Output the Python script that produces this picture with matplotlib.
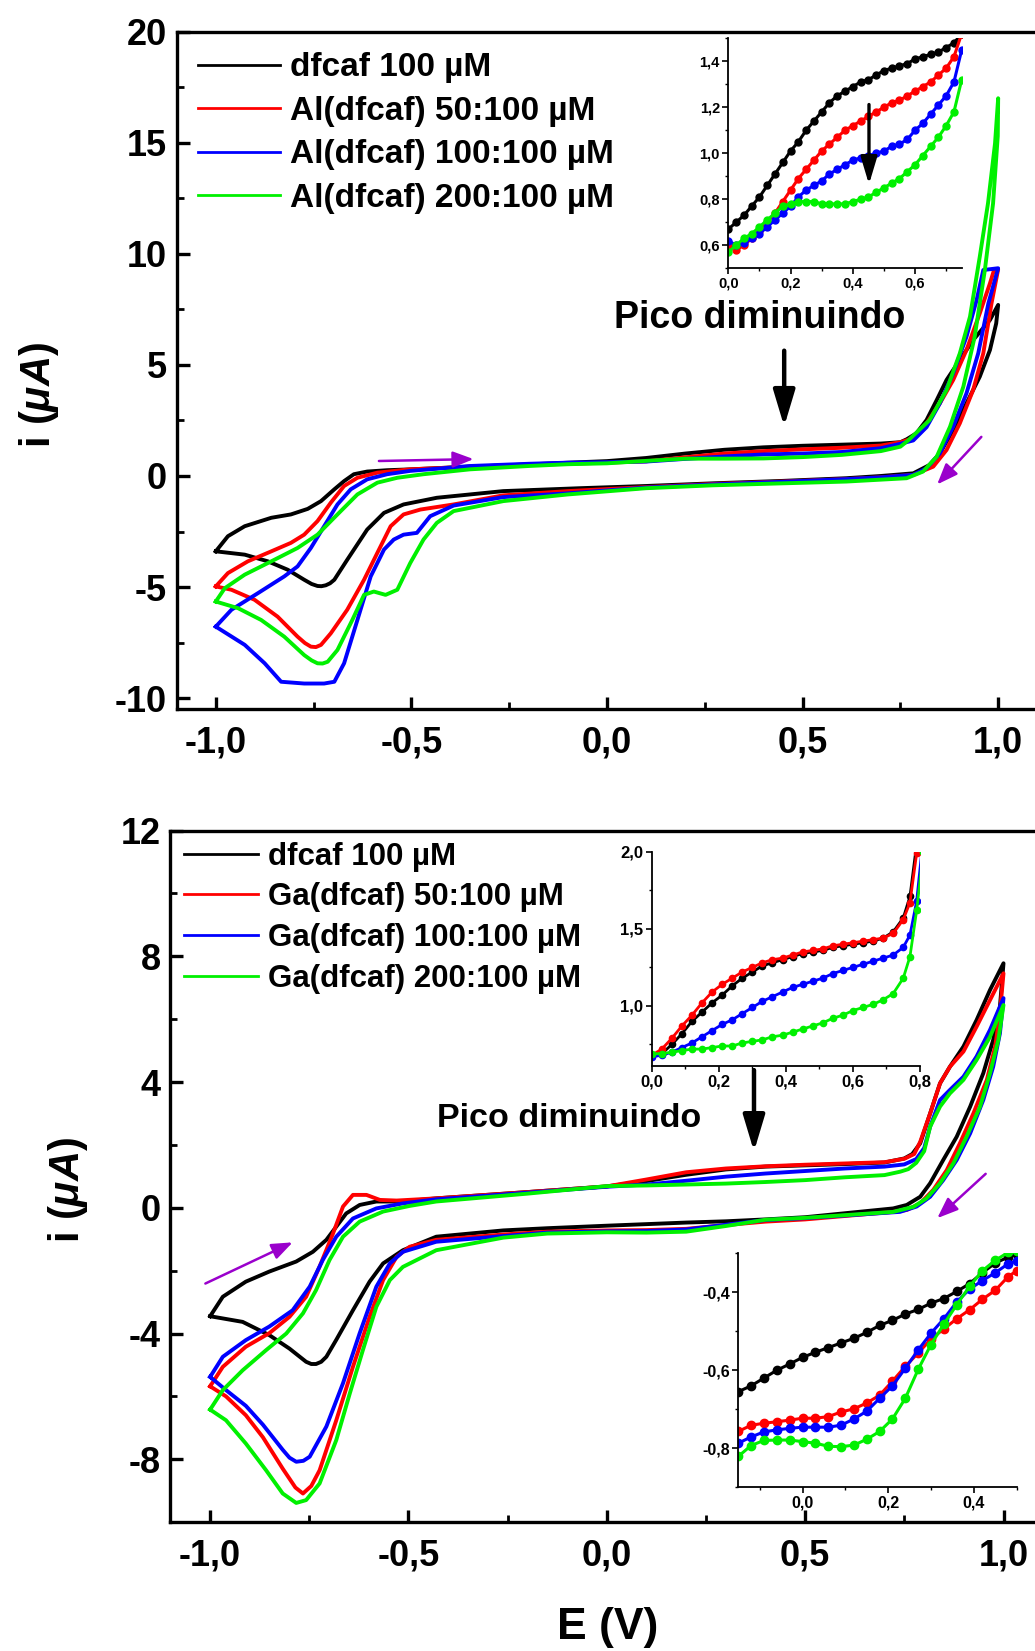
"""
Cyclic voltammograms of dfcaf with Al(III) and Ga(III).

Two stacked panels, each with the full CV loops and zoomed insets.
"""

import matplotlib

matplotlib.use("Agg")
import matplotlib.pyplot as plt
from matplotlib.ticker import MultipleLocator


OUT_FILE = "out.png"

COLORS = ["black", "#FF0000", "#0000FF", "#00F000"]

AL_LABELS = [
    "dfcaf 100 µM",
    "Al(dfcaf) 50:100 µM",
    "Al(dfcaf) 100:100 µM",
    "Al(dfcaf) 200:100 µM",
]
GA_LABELS = [
    "dfcaf 100 µM",
    "Ga(dfcaf) 50:100 µM",
    "Ga(dfcaf) 100:100 µM",
    "Ga(dfcaf) 200:100 µM",
]

E_TICKS = [-1.0, -0.5, 0.0, 0.5, 1.0]
E_TICK_LABELS = ["-1,0", "-0,5", "0,0", "0,5", "1,0"]
AL_I_TICKS = [-10, -5, 0, 5, 10, 15, 20]
AL_I_TICK_LABELS = ["-10", "-5", "0", "5", "10", "15", "20"]
GA_I_TICKS = [-8, -4, 0, 4, 8, 12]
GA_I_TICK_LABELS = ["-8", "-4", "0", "4", "8", "12"]

# --- Al panel, full loops (forward sweep -1 -> 1, then back to -1) ---
AL_BLACK_E = [-1.0, -0.969, -0.926, -0.858, -0.808, -0.765, -0.731, -0.697, -0.672, -0.647,
              -0.613, -0.562, -0.5, -0.35, -0.2, -0.07, 0.0, 0.1, 0.2, 0.3,
              0.4, 0.5, 0.6, 0.7, 0.75, 0.766, 0.791, 0.817, 0.843, 0.868,
              0.902, 0.936, 0.979, 1.0,
              0.995, 0.979, 0.953, 0.919, 0.885, 0.851, 0.825, 0.783, 0.7, 0.612,
              0.45, 0.271, 0.1, -0.07, -0.265, -0.435, -0.52, -0.57, -0.613, -0.664,
              -0.697, -0.708, -0.719, -0.73, -0.74, -0.755, -0.774, -0.816, -0.867, -0.926,
              -1.0]
AL_BLACK_I = [-3.39, -2.71, -2.26, -1.88, -1.73, -1.48, -1.13, -0.60, -0.23, 0.08,
              0.20, 0.26, 0.30, 0.42, 0.52, 0.62, 0.67, 0.81, 1.01, 1.18,
              1.29, 1.36, 1.41, 1.46, 1.52, 1.65, 1.92, 2.52, 3.42, 4.32,
              5.22, 6.12, 7.02, 7.7,
              6.87, 5.67, 4.47, 3.27, 2.07, 1.02, 0.5, 0.12, 0.0, -0.1,
              -0.22, -0.33, -0.45, -0.55, -0.68, -0.98, -1.28, -1.66, -2.41, -3.77,
              -4.67, -4.83, -4.92, -4.96, -4.95, -4.86, -4.67, -4.22, -3.84, -3.54,
              -3.39]

AL_RED_E = [-1.0, -0.969, -0.918, -0.858, -0.808, -0.774, -0.74, -0.706, -0.672, -0.638,
            -0.587, -0.503, -0.35, -0.2, -0.1, 0.0, 0.1, 0.2, 0.3, 0.4,
            0.5, 0.6, 0.7, 0.75, 0.783, 0.817, 0.851, 0.885, 0.919, 0.953,
            0.979, 0.99, 1.0,
            0.983, 0.962, 0.936, 0.902, 0.868, 0.834, 0.783, 0.7, 0.612, 0.45,
            0.27, 0.1, -0.1, -0.265, -0.392, -0.477, -0.52, -0.553, -0.587, -0.621,
            -0.664, -0.706, -0.731, -0.744, -0.757, -0.772, -0.791, -0.842, -0.901, -0.96,
            -1.0]
AL_RED_I = [-4.97, -4.37, -3.84, -3.39, -3.01, -2.64, -2.03, -1.2, -0.45, -0.08,
            0.15, 0.3, 0.42, 0.5, 0.55, 0.6, 0.66, 0.84, 1.01, 1.12,
            1.2, 1.27, 1.37, 1.52, 1.7, 2.37, 3.27, 4.32, 5.67, 7.32,
            8.67, 9.3, 9.3,
            7.77, 5.52, 3.87, 2.37, 1.17, 0.42, 0.05, -0.06, -0.14, -0.25,
            -0.36, -0.5, -0.68, -0.87, -1.28, -1.51, -1.73, -2.26, -3.46, -4.67,
            -6.02, -7.08, -7.6, -7.7, -7.68, -7.52, -7.23, -6.33, -5.57, -5.12,
            -4.97]

AL_BLUE_E = [-1.0, -0.96, -0.892, -0.825, -0.791, -0.757, -0.723, -0.689, -0.655, -0.613,
             -0.562, -0.503, -0.35, -0.2, -0.1, 0.0, 0.1, 0.2, 0.3, 0.4,
             0.5, 0.6, 0.7, 0.75, 0.783, 0.817, 0.851, 0.885, 0.919, 0.945,
             0.962, 1.0,
             0.975, 0.949, 0.919, 0.885, 0.851, 0.817, 0.783, 0.7, 0.612, 0.45,
             0.27, 0.1, -0.1, -0.265, -0.392, -0.452, -0.486, -0.52, -0.545, -0.57,
             -0.604, -0.638, -0.672, -0.697, -0.723, -0.774, -0.833, -0.875, -0.926, -1.0]
AL_BLUE_I = [-6.78, -6.02, -5.27, -4.52, -4.07, -3.24, -2.26, -1.28, -0.6, -0.15,
             0.08, 0.23, 0.45, 0.55, 0.6, 0.62, 0.65, 0.77, 0.88, 0.97,
             1.01, 1.08, 1.25, 1.45, 1.6, 2.2, 3.27, 4.62, 6.27, 7.92,
             9.27, 9.35,
             7.77, 5.52, 3.72, 2.22, 1.02, 0.35, 0.05, -0.06, -0.14, -0.26,
             -0.38, -0.52, -0.78, -0.95, -1.33, -1.81, -2.56, -2.64, -2.86, -3.31,
             -4.52, -6.48, -8.43, -9.26, -9.34, -9.34, -9.26, -8.43, -7.6, -6.78]

AL_GREEN_E = [-1.0, -0.977, -0.926, -0.858, -0.791, -0.74, -0.689, -0.638, -0.587, -0.536,
              -0.469, -0.35, -0.2, -0.1, 0.0, 0.1, 0.2, 0.3, 0.4, 0.5,
              0.6, 0.7, 0.75, 0.77, 0.825, 0.868, 0.902, 0.928, 0.953, 0.974,
              0.992, 1.0,
              0.999, 0.987, 0.966, 0.94, 0.911, 0.877, 0.843, 0.808, 0.766, 0.612,
              0.45, 0.27, 0.1, -0.1, -0.265, -0.392, -0.435, -0.469, -0.503, -0.536,
              -0.566, -0.596, -0.621, -0.651, -0.689, -0.714, -0.727, -0.74, -0.755, -0.774,
              -0.825, -0.884, -0.943, -1.0]
AL_GREEN_I = [-5.65, -5.05, -4.44, -3.84, -3.24, -2.64, -1.73, -0.83, -0.3, -0.08,
              0.08, 0.3, 0.45, 0.53, 0.57, 0.68, 0.78, 0.78, 0.79, 0.85,
              0.95, 1.12, 1.32, 1.6, 2.52, 3.87, 5.52, 7.17, 9.87, 12.27,
              14.97, 17.0,
              15.3, 12.27, 9.27, 6.27, 4.02, 2.22, 0.87, 0.2, -0.1, -0.25,
              -0.33, -0.42, -0.55, -0.83, -1.13, -1.58, -2.11, -2.86, -3.92, -5.12,
              -5.35, -5.2, -5.35, -6.48, -7.83, -8.36, -8.44, -8.43, -8.3, -8.06,
              -7.23, -6.48, -5.95, -5.65]

# --- Ga panel, full loops ---
GA_BLACK_E = [-1.0, -0.968, -0.91, -0.851, -0.783, -0.741, -0.707, -0.682, -0.657, -0.623,
              -0.581, -0.514, -0.43, -0.2, 0.0, 0.1, 0.2, 0.3, 0.4, 0.5,
              0.6, 0.7, 0.75, 0.77, 0.79, 0.815, 0.84, 0.865, 0.899, 0.932,
              0.966, 1.0,
              0.991, 0.974, 0.949, 0.916, 0.882, 0.848, 0.815, 0.79, 0.756, 0.722,
              0.5, 0.4, 0.3, 0.2, 0.1, 0.0, -0.15, -0.261, -0.43, -0.514,
              -0.564, -0.598, -0.64, -0.682, -0.707, -0.72, -0.733, -0.745, -0.758, -0.8,
              -0.851, -0.918, -1.0]
GA_BLACK_I = [-3.45, -2.83, -2.35, -2.03, -1.71, -1.40, -1.02, -0.60, -0.18, 0.09,
              0.2, 0.2, 0.3, 0.5, 0.68, 0.85, 1.05, 1.22, 1.31, 1.35,
              1.39, 1.44, 1.57, 1.71, 2.05, 3.0, 3.96, 4.49, 5.13, 5.97,
              6.93, 7.78,
              6.4, 5.34, 4.28, 3.22, 2.26, 1.52, 0.78, 0.35, 0.09, -0.02,
              -0.30, -0.37, -0.43, -0.47, -0.52, -0.57, -0.65, -0.72, -0.92, -1.35,
              -1.77, -2.35, -3.26, -4.2, -4.74, -4.9, -4.97, -4.97, -4.9, -4.48,
              -4.05, -3.63, -3.45]

GA_RED_E = [-1.0, -0.968, -0.91, -0.851, -0.8, -0.758, -0.724, -0.69, -0.665, -0.64,
            -0.606, -0.572, -0.53, -0.43, -0.2, 0.0, 0.1, 0.2, 0.3, 0.4,
            0.5, 0.6, 0.7, 0.75, 0.775, 0.79, 0.815, 0.84, 0.865, 0.899,
            0.932, 0.966, 1.0,
            0.991, 0.979, 0.958, 0.924, 0.89, 0.857, 0.823, 0.79, 0.756, 0.722,
            0.5, 0.4, 0.3, 0.2, 0.1, 0.0, -0.15, -0.261, -0.43, -0.497,
            -0.53, -0.564, -0.598, -0.64, -0.682, -0.724, -0.745, -0.766, -0.785, -0.817,
            -0.867, -0.91, -0.96, -1.0]
GA_RED_I = [-5.68, -5.06, -4.42, -3.99, -3.47, -2.83, -1.87, -0.81, 0.04, 0.41,
            0.41, 0.25, 0.23, 0.3, 0.5, 0.68, 0.9, 1.13, 1.25, 1.32,
            1.37, 1.41, 1.45, 1.56, 1.71, 2.1, 3.0, 3.96, 4.49, 4.97,
            5.76, 6.61, 7.46,
            6.2, 5.13, 4.07, 3.0, 2.05, 1.2, 0.57, 0.14, -0.07, -0.13,
            -0.37, -0.44, -0.55, -0.67, -0.71, -0.72, -0.76, -0.85, -1.02, -1.24,
            -1.56, -2.3, -3.47, -5.06, -6.76, -8.35, -8.85, -9.09, -8.9, -8.3,
            -7.3, -6.6, -6.0, -5.68]

GA_BLUE_E = [-1.0, -0.968, -0.91, -0.851, -0.792, -0.749, -0.716, -0.682, -0.64, -0.581,
             -0.514, -0.43, -0.2, 0.0, 0.1, 0.2, 0.3, 0.4, 0.5, 0.6,
             0.7, 0.75, 0.78, 0.8, 0.815, 0.84, 0.865, 0.899, 0.932, 0.966,
             1.0,
             0.991, 0.974, 0.949, 0.916, 0.882, 0.848, 0.815, 0.781, 0.739, 0.5,
             0.4, 0.3, 0.2, 0.1, 0.0, -0.15, -0.261, -0.43, -0.514, -0.547,
             -0.581, -0.623, -0.665, -0.707, -0.749, -0.765, -0.783, -0.8, -0.817, -0.867,
             -0.91, -0.96, -1.0]
GA_BLUE_I = [-5.38, -4.74, -4.21, -3.78, -3.26, -2.51, -1.66, -0.92, -0.34, -0.02,
             0.14, 0.27, 0.48, 0.67, 0.74, 0.86, 0.99, 1.09, 1.17, 1.25,
             1.31, 1.38, 1.55, 1.9, 2.58, 3.43, 3.75, 4.17, 4.81, 5.66,
             6.67,
             5.55, 4.49, 3.43, 2.37, 1.52, 0.88, 0.35, 0.04, -0.13, -0.33,
             -0.39, -0.54, -0.69, -0.74, -0.75, -0.79, -0.9, -1.08, -1.4, -1.77,
             -2.51, -3.99, -5.58, -6.96, -7.92, -8.05, -8.08, -7.95, -7.7, -6.9,
             -6.3, -5.8, -5.38]

GA_GREEN_E = [-1.0, -0.968, -0.918, -0.859, -0.808, -0.766, -0.733, -0.699, -0.665, -0.623,
              -0.564, -0.497, -0.43, -0.2, 0.0, 0.1, 0.2, 0.3, 0.4, 0.5,
              0.6, 0.7, 0.74, 0.76, 0.78, 0.8, 0.815, 0.84, 0.865, 0.899,
              0.932, 0.966, 1.0,
              0.987, 0.966, 0.941, 0.907, 0.874, 0.84, 0.806, 0.773, 0.722, 0.5,
              0.4, 0.3, 0.2, 0.1, 0.0, -0.15, -0.261, -0.43, -0.514, -0.547,
              -0.581, -0.615, -0.648, -0.682, -0.724, -0.758, -0.783, -0.817, -0.859, -0.91,
              -0.96, -1.0]
GA_GREEN_I = [-6.42, -5.8, -5.17, -4.53, -4.0, -3.36, -2.62, -1.66, -0.92, -0.44,
              -0.12, 0.06, 0.2, 0.45, 0.69, 0.71, 0.74, 0.77, 0.82, 0.88,
              0.97, 1.04, 1.15, 1.23, 1.43, 1.8, 2.58, 3.22, 3.64, 4.07,
              4.7, 5.44, 6.45,
              5.34, 4.28, 3.22, 2.26, 1.42, 0.78, 0.3, 0.03, -0.13, -0.32,
              -0.38, -0.58, -0.76, -0.79, -0.78, -0.82, -0.95, -1.35, -1.88, -2.3,
              -3.15, -4.53, -5.91, -7.39, -8.77, -9.3, -9.39, -9.09, -8.35, -7.5,
              -6.76, -6.42]

# --- Al inset: forward sweep, 0 to 0.75 V ---
INSET_AL_E = [0.0, 0.025, 0.05, 0.075, 0.1, 0.125, 0.15, 0.175, 0.2, 0.225,
              0.25, 0.275, 0.3, 0.325, 0.35, 0.375, 0.4, 0.425, 0.45, 0.475,
              0.5, 0.525, 0.55, 0.575, 0.6, 0.625, 0.65, 0.675, 0.7, 0.725, 0.75]
INSET_AL_BLACK = [0.67, 0.70, 0.73, 0.77, 0.81, 0.86, 0.91, 0.96, 1.01, 1.05,
                  1.10, 1.14, 1.18, 1.22, 1.25, 1.27, 1.29, 1.31, 1.32, 1.34,
                  1.36, 1.37, 1.38, 1.39, 1.41, 1.42, 1.43, 1.44, 1.46, 1.48, 1.52]
INSET_AL_RED = [0.60, 0.58, 0.60, 0.63, 0.66, 0.70, 0.74, 0.79, 0.84, 0.89,
                0.93, 0.97, 1.01, 1.04, 1.07, 1.10, 1.12, 1.14, 1.16, 1.18,
                1.20, 1.22, 1.23, 1.25, 1.27, 1.29, 1.31, 1.34, 1.37, 1.42, 1.52]
INSET_AL_BLUE = [0.62, 0.60, 0.61, 0.63, 0.65, 0.68, 0.71, 0.74, 0.77, 0.81,
                 0.84, 0.86, 0.88, 0.91, 0.93, 0.95, 0.97, 0.98, 0.99, 1.00,
                 1.01, 1.03, 1.04, 1.06, 1.10, 1.13, 1.17, 1.21, 1.25, 1.31, 1.45]
INSET_AL_GREEN = [0.57, 0.60, 0.63, 0.65, 0.68, 0.71, 0.74, 0.77, 0.78, 0.79,
                  0.79, 0.79, 0.78, 0.78, 0.78, 0.78, 0.79, 0.80, 0.81, 0.83,
                  0.85, 0.87, 0.89, 0.92, 0.95, 0.99, 1.03, 1.07, 1.12, 1.18, 1.32]

# --- Ga inset, forward sweep 0 to 0.8 V ---
INSET_GA_UP_E = [0.0, 0.03, 0.06, 0.09, 0.12, 0.15, 0.18, 0.21, 0.24, 0.27,
                 0.30, 0.33, 0.36, 0.39, 0.42, 0.45, 0.48, 0.51, 0.54, 0.57,
                 0.60, 0.63, 0.66, 0.69, 0.72, 0.75, 0.77, 0.79, 0.81]
INSET_GA_UP_BLACK = [0.68, 0.69, 0.75, 0.82, 0.90, 0.96, 1.02, 1.07, 1.13, 1.18,
                     1.22, 1.26, 1.28, 1.30, 1.32, 1.34, 1.35, 1.36, 1.38, 1.39,
                     1.40, 1.41, 1.42, 1.44, 1.48, 1.57, 1.71, 2.05, 2.5]
INSET_GA_UP_RED = [0.68, 0.72, 0.79, 0.87, 0.94, 1.02, 1.09, 1.14, 1.18, 1.22,
                   1.25, 1.28, 1.30, 1.31, 1.33, 1.35, 1.36, 1.37, 1.39, 1.40,
                   1.41, 1.42, 1.43, 1.44, 1.47, 1.56, 1.67, 1.99, 2.4]
INSET_GA_UP_BLUE = [0.67, 0.68, 0.70, 0.73, 0.76, 0.80, 0.84, 0.88, 0.91, 0.95,
                    0.99, 1.03, 1.06, 1.09, 1.12, 1.14, 1.16, 1.18, 1.21, 1.23,
                    1.25, 1.27, 1.29, 1.31, 1.33, 1.38, 1.46, 1.68, 2.1]
INSET_GA_UP_GREEN = [0.69, 0.69, 0.70, 0.71, 0.72, 0.72, 0.73, 0.74, 0.74, 0.76,
                     0.77, 0.78, 0.80, 0.81, 0.83, 0.85, 0.87, 0.89, 0.92, 0.94,
                     0.97, 0.99, 1.01, 1.04, 1.08, 1.18, 1.32, 1.62, 2.0]

# --- Ga inset, reverse sweep -0.15 to 0.5 V ---
INSET_GA_LOW_E = [-0.15, -0.12, -0.09, -0.06, -0.03, 0.0, 0.03, 0.06, 0.09, 0.12,
                  0.15, 0.18, 0.21, 0.24, 0.27, 0.30, 0.33, 0.36, 0.39, 0.42,
                  0.45, 0.48, 0.50]
INSET_GA_LOW_BLACK = [-0.655, -0.64, -0.62, -0.60, -0.584, -0.567, -0.554, -0.542, -0.53, -0.518,
                      -0.503, -0.485, -0.472, -0.456, -0.444, -0.428, -0.416, -0.398, -0.378, -0.35,
                      -0.325, -0.31, -0.302]
INSET_GA_LOW_RED = [-0.757, -0.741, -0.736, -0.732, -0.728, -0.723, -0.723, -0.719, -0.707, -0.699,
                    -0.684, -0.664, -0.628, -0.59, -0.556, -0.52, -0.494, -0.468, -0.445, -0.418,
                    -0.395, -0.36, -0.345]
INSET_GA_LOW_BLUE = [-0.787, -0.771, -0.758, -0.753, -0.749, -0.746, -0.746, -0.746, -0.741, -0.725,
                     -0.705, -0.672, -0.64, -0.595, -0.548, -0.505, -0.468, -0.425, -0.392, -0.37,
                     -0.35, -0.327, -0.319]
INSET_GA_LOW_GREEN = [-0.821, -0.793, -0.78, -0.779, -0.779, -0.783, -0.787, -0.795, -0.796, -0.792,
                      -0.777, -0.757, -0.725, -0.672, -0.598, -0.534, -0.482, -0.432, -0.385, -0.345,
                      -0.318, -0.298, -0.294]

PURPLE = "#9A00CC"


def style_main_axes(ax, i_ticks, i_labels, i_minor):
    """Thick spines, inward ticks, comma decimals."""
    for side in ("left", "bottom", "top"):
        ax.spines[side].set_linewidth(2.4)
    ax.spines["right"].set_visible(False)
    ax.set_xlim(-1.1, 1.1)
    ax.set_xticks(E_TICKS)
    ax.set_xticklabels(E_TICK_LABELS)
    ax.set_yticks(i_ticks)
    ax.set_yticklabels(i_labels)
    ax.xaxis.set_minor_locator(MultipleLocator(0.25))
    ax.yaxis.set_minor_locator(MultipleLocator(i_minor))
    ax.tick_params(which="major", direction="in", length=9, width=2.4,
                   labelsize=26)
    ax.tick_params(which="minor", direction="in", length=5, width=2.0)
    ax.tick_params(axis="x", pad=12)
    ax.tick_params(axis="y", pad=7)


def style_inset(ax, labelsize):
    ax.set_facecolor("none")
    ax.spines["top"].set_visible(False)
    ax.spines["right"].set_visible(False)
    for side in ("left", "bottom"):
        ax.spines[side].set_linewidth(1.3)
    ax.tick_params(which="major", direction="out", length=4, width=1.2,
                   labelsize=labelsize, pad=2)
    ax.tick_params(which="minor", direction="out", length=2.5, width=1.0)


def add_legend(ax, labels, fontsize, anchor, handlelength, textpad, spacing):
    leg = ax.legend(labels, loc="upper left", bbox_to_anchor=anchor,
                    frameon=False, fontsize=fontsize, borderpad=0,
                    borderaxespad=0, labelspacing=spacing,
                    handlelength=handlelength, handletextpad=textpad)
    for line in leg.get_lines():
        line.set_linewidth(2.0)


def black_arrow(ax, tail, tip, scale):
    ax.annotate("", xy=tip, xytext=tail,
                arrowprops=dict(arrowstyle="-|>,head_length=1.1,head_width=0.33",
                                color="black", lw=scale * 0.16,
                                mutation_scale=scale, shrinkA=0, shrinkB=0))


def purple_arrow(ax, tail, tip):
    ax.annotate("", xy=tip, xytext=tail,
                arrowprops=dict(arrowstyle="-|>,head_length=0.9,head_width=0.35",
                                color=PURPLE, lw=1.8, mutation_scale=14,
                                shrinkA=0, shrinkB=0))


def plot_al_panel(fig):
    ax = fig.add_axes([0.1707, 0.57038, 0.8315, 0.41048])
    loops = [(AL_BLACK_E, AL_BLACK_I), (AL_RED_E, AL_RED_I),
             (AL_BLUE_E, AL_BLUE_I), (AL_GREEN_E, AL_GREEN_I)]
    for (e, i), color in zip(loops, COLORS):
        ax.plot(e, i, color=color, lw=2.8, solid_joinstyle="round")
    ax.set_ylim(-10.5, 20)
    style_main_axes(ax, AL_I_TICKS, AL_I_TICK_LABELS, 2.5)
    add_legend(ax, AL_LABELS, 24, (0.025, 0.9695), 2.45, 0.3, 0.375)

    ax.text(0.391, 7.11, "Pico diminuindo", fontsize=27, fontweight="bold",
            ha="center", va="center")
    black_arrow(ax, (0.453, 5.64), (0.453, 2.23), 20)
    purple_arrow(ax, (-0.583, 0.675), (-0.341, 0.76))
    purple_arrow(ax, (0.957, 1.76), (0.844, -0.38))
    ax.text(-0.160, 0.464, r"i ($\mu A$)", transform=ax.transAxes,
            fontsize=30, fontweight="bold", rotation=90,
            ha="center", va="center")

    inset = fig.add_axes([0.7037, 0.8375, 0.2255, 0.1393])
    series = [INSET_AL_BLACK, INSET_AL_RED, INSET_AL_BLUE, INSET_AL_GREEN]
    for values, color in zip(series, COLORS):
        inset.plot(INSET_AL_E, values, color=color, lw=2.2, marker="o",
                   ms=5, mec=color)
    inset.set_xlim(0.0, 0.75)
    inset.set_ylim(0.5, 1.5)
    inset.set_xticks([0.0, 0.2, 0.4, 0.6])
    inset.set_xticklabels(["0,0", "0,2", "0,4", "0,6"])
    inset.set_yticks([0.6, 0.8, 1.0, 1.2, 1.4])
    inset.set_yticklabels(["0,6", "0,8", "1,0", "1,2", "1,4"])
    inset.xaxis.set_minor_locator(MultipleLocator(0.1))
    inset.yaxis.set_minor_locator(MultipleLocator(0.1))
    style_inset(inset, 10.5)
    black_arrow(inset, (0.452, 1.212), (0.452, 0.865), 15)


def plot_ga_panel(fig):
    ax = fig.add_axes([0.1647, 0.07807, 0.8432, 0.41884])
    loops = [(GA_BLACK_E, GA_BLACK_I), (GA_RED_E, GA_RED_I),
             (GA_BLUE_E, GA_BLUE_I), (GA_GREEN_E, GA_GREEN_I)]
    for (e, i), color in zip(loops, COLORS):
        ax.plot(e, i, color=color, lw=2.8, solid_joinstyle="round")
    ax.set_ylim(-10, 12)
    style_main_axes(ax, GA_I_TICKS, GA_I_TICK_LABELS, 2)
    add_legend(ax, GA_LABELS, 22.5, (0.0156, 0.984), 2.37, 0.32, 0.344)

    ax.text(-0.096, 2.85, "Pico diminuindo", fontsize=24.5, fontweight="bold",
            ha="center", va="center")
    black_arrow(ax, (0.371, 4.38), (0.371, 1.79), 20)
    purple_arrow(ax, (-1.012, -2.41), (-0.792, -1.10))
    purple_arrow(ax, (0.955, 1.08), (0.833, -0.33))
    ax.text(-0.1173, 0.48, r"i ($\mu A$)", transform=ax.transAxes,
            fontsize=30, fontweight="bold", rotation=90,
            ha="center", va="center")

    upper = fig.add_axes([0.6297, 0.3543, 0.2592, 0.1298])
    series = [INSET_GA_UP_BLACK, INSET_GA_UP_RED, INSET_GA_UP_BLUE,
              INSET_GA_UP_GREEN]
    for values, color in zip(series, COLORS):
        upper.plot(INSET_GA_UP_E, values, color=color, lw=2.0, marker="o",
                   ms=4.5, mec=color)
    upper.set_xlim(0.0, 0.8)
    upper.set_ylim(0.61, 2.0)
    upper.set_xticks([0.0, 0.2, 0.4, 0.6, 0.8])
    upper.set_xticklabels(["0,0", "0,2", "0,4", "0,6", "0,8"])
    upper.set_yticks([1.0, 1.5, 2.0])
    upper.set_yticklabels(["1,0", "1,5", "2,0"])
    upper.xaxis.set_minor_locator(MultipleLocator(0.1))
    upper.yaxis.set_minor_locator(MultipleLocator(0.25))
    style_inset(upper, 12)

    lower = fig.add_axes([0.7133, 0.0992, 0.269, 0.1417])
    series = [INSET_GA_LOW_BLACK, INSET_GA_LOW_RED, INSET_GA_LOW_BLUE,
              INSET_GA_LOW_GREEN]
    for values, color in zip(series, COLORS):
        lower.plot(INSET_GA_LOW_E, values, color=color, lw=2.2, marker="o",
                   ms=6, mec=color)
    lower.set_xlim(-0.15, 0.5)
    lower.set_ylim(-0.9, -0.3)
    lower.set_xticks([0.0, 0.2, 0.4])
    lower.set_xticklabels(["0,0", "0,2", "0,4"])
    lower.set_yticks([-0.8, -0.6, -0.4])
    lower.set_yticklabels(["-0,8", "-0,6", "-0,4"])
    lower.xaxis.set_minor_locator(MultipleLocator(0.1))
    lower.yaxis.set_minor_locator(MultipleLocator(0.1))
    style_inset(lower, 11.5)


def main() -> None:
    plt.rcParams["font.family"] = ["Liberation Sans", "DejaVu Sans"]
    plt.rcParams["font.weight"] = "bold"
    plt.rcParams["mathtext.fontset"] = "custom"
    plt.rcParams["mathtext.it"] = "Liberation Sans:italic:bold"
    plt.rcParams["mathtext.rm"] = "Liberation Sans:bold"

    fig = plt.figure(figsize=(10.35, 16.51), dpi=100)
    plot_al_panel(fig)
    plot_ga_panel(fig)
    fig.text(0.587, 0.0145, "E (V)", fontsize=32, fontweight="bold",
             ha="center", va="center")
    fig.savefig(OUT_FILE, dpi=100)


if __name__ == "__main__":
    main()
